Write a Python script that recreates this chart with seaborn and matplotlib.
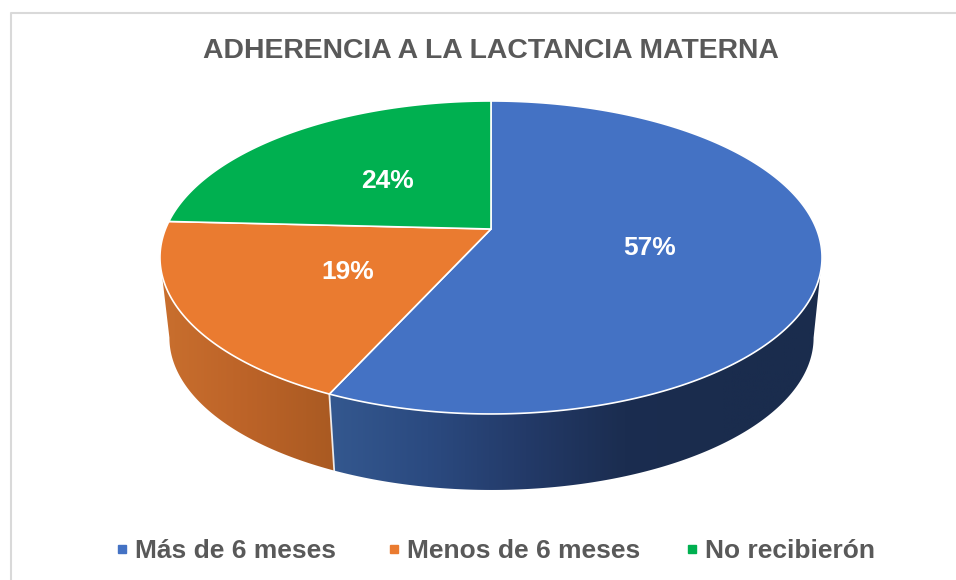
import numpy as np
import seaborn as sns
import matplotlib.pyplot as plt
from matplotlib.lines import Line2D
from matplotlib.patches import Polygon

titulo = "ADHERENCIA A LA LACTANCIA MATERNA"
categorias = ["Más de 6 meses", "Menos de 6 meses", "No recibierón"]
valores = [56.8, 19.0, 24.2]
colores = ["#4472C4", "#EA7B30", "#00B050"]

sns.set_theme(style="white")
plt.rcParams["font.family"] = ["Liberation Sans", "DejaVu Sans"]
gris = "#595959"

# geometry of the tilted disc, in pixels of the figure
cx, cy = 491, 229
a, b, k = 325.5, 151.3, 0.182
cx2, cy2, esc = 491.5, 310, 0.973


def tapa(theta, r=1.0):
    # top face: unit circle seen in perspective, theta clockwise from the top
    u, v = r * np.sin(theta), r * np.cos(theta)
    d = 1 + k * v
    return cx + a * u / d, cy - b * v / d


def base(theta):
    x, y = tapa(theta)
    return cx2 + esc * (x - cx), cy2 + esc * (y - cy)


fig = plt.figure(figsize=(9.56, 5.8), dpi=100)
ax = fig.add_axes([0, 0, 1, 1])

fracs = np.array(valores) / sum(valores)
bordes = np.concatenate([[0], np.cumsum(fracs)]) * 2 * np.pi

# side wall, front part only, colours run left to right
lim_der, lim_izq = np.pi - np.arccos(k), np.pi + np.arccos(k)
paredes = [
    sns.blend_palette(["#34588F", "#2B4A80", "#233A68", "#1B2D50", "#1A2C4D", "#1A2C4D"], 256),
    sns.blend_palette(["#C96F2E", "#BC6328", "#A95A22"], 256),
]
for i, pal in enumerate(paredes):
    th = np.linspace(max(bordes[i], lim_der), min(bordes[i + 1], lim_izq), 200)
    xt, yt = tapa(th)
    xb, yb = base(th)
    xs, ys = np.r_[xt, xb[::-1]], np.r_[yt, yb[::-1]]
    poli = Polygon(np.c_[xs, ys], closed=True, transform=ax.transData, fc="none", ec="none")
    ax.add_patch(poli)
    img = ax.imshow(np.array(pal)[None, :, :], extent=[xs.min(), xs.max(), ys.max(), ys.min()],
                    aspect="auto", zorder=2)
    img.set_clip_path(poli)

# seam between blue and orange on the wall
ax.plot(*zip(tapa(bordes[1]), base(bordes[1])), color="white", lw=1.3, alpha=0.85, zorder=3)

# top face
for i, col in enumerate(colores):
    th = np.linspace(bordes[i], bordes[i + 1], 300)
    x, y = tapa(th)
    ax.fill(np.r_[cx, x], np.r_[cy, y], facecolor=col, edgecolor="white", lw=1.2, zorder=4)

for i, v in enumerate(valores):
    x, y = tapa((bordes[i] + bordes[i + 1]) / 2, 0.49)
    ax.text(x, y + 2.5, f"{v:.0f}%", color="white", fontsize=19, fontweight="bold",
            ha="center", va="center", zorder=5)

ax.text(491, 51, titulo, color=gris, fontsize=20.4, fontweight="bold", ha="center", va="center")

# chart frame, only left and top show in the crop
ax.add_line(Line2D([11, 11, 956], [580, 13, 13], color="#D9D9D9", lw=1.5, zorder=1))

# legend entries sit at uneven gaps in the original
ley_x = [122.5, 394.5, 692.5]
for xm, c, txt in zip(ley_x, colores, categorias):
    ax.plot([xm], [549], ls="", marker="s", ms=6, color=c)
    ax.text(xm + 12.5, 558, txt, color=gris, fontsize=19, fontweight="bold", ha="left", va="baseline")

ax.set_xlim(0, 956)
ax.set_ylim(580, 0)
ax.axis("off")

fig.savefig("out.png", dpi=100)
